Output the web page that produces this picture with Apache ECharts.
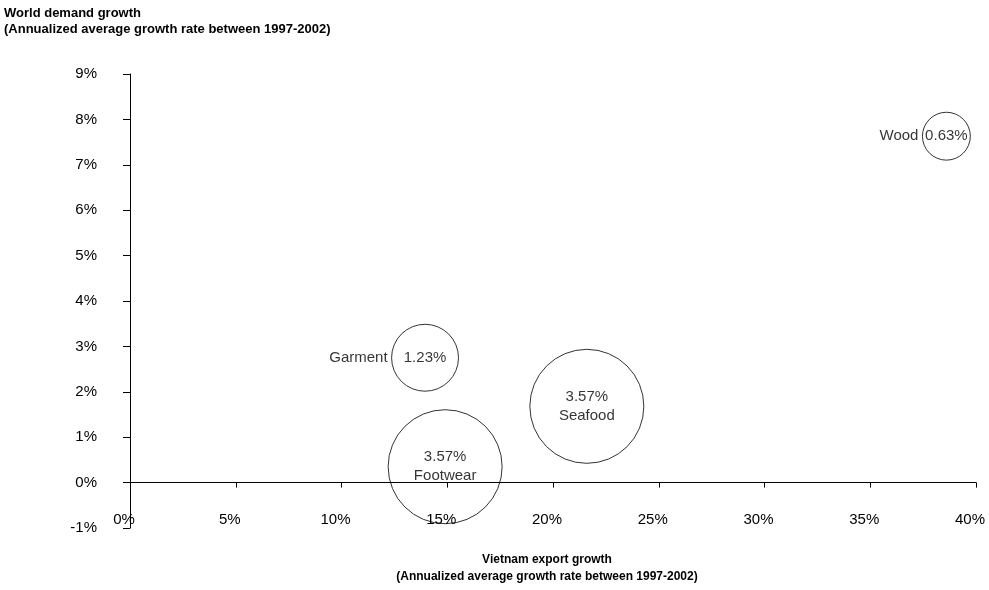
<!DOCTYPE html>
<html>
<head>
<meta charset="utf-8">
<script src="https://cdn.jsdelivr.net/npm/echarts@6/dist/echarts.min.js"></script>
<style>
  html, body { margin: 0; padding: 0; background: #fff; }
  #chart { width: 989px; height: 590px; }
</style>
</head>
<body>
<div id="chart"></div>
<script>
// products, export growth (x), world demand growth (y), share of exports (bubble)
const products = ['Wood', 'Garment', 'Seafood', 'Footwear']
const exportGrowth = [38.6, 13.95, 21.6, 14.9]
const demandGrowth = [7.63, 2.75, 1.68, 0.35]
const exportShare = [0.63, 1.23, 3.57, 3.57]
// names drawn beside the bubble instead of inside
const sideNames = ['Wood', 'Garment']

const font = 'Liberation Sans, Arial, sans-serif'

const points = products.map((p, i) => [exportGrowth[i], demandGrowth[i], exportShare[i], p])

function bubbleSize (d) {
  return 114 * Math.sqrt(d[2] / 3.57)
}

const chart = echarts.init(document.getElementById('chart'))

chart.setOption({
  animation: false,
  backgroundColor: '#fff',
  title: {
    text: 'World demand growth\n(Annualized average growth rate between 1997-2002)',
    left: 4,
    top: 5,
    padding: 0,
    textStyle: {
      fontFamily: font,
      fontSize: 13,
      fontWeight: 'bold',
      color: '#000',
      lineHeight: 16
    }
  },
  grid: { left: 130, right: 13, top: 74, bottom: 55 },
  xAxis: [{
    type: 'value',
    min: 0,
    max: 40,
    interval: 5,
    axisLine: { onZero: true, lineStyle: { color: '#000', width: 1 } },
    axisTick: { show: true, length: 5, lineStyle: { color: '#000' } },
    axisLabel: { show: false },
    splitLine: { show: false }
  }, {
    type: 'value',
    position: 'bottom',
    offset: -20,
    min: 0,
    max: 40,
    interval: 5,
    axisLine: { show: false, onZero: false },
    axisTick: { show: false },
    axisLabel: {
      margin: 4,
      padding: [0, 12, 0, 0],
      formatter: '{value}%',
      fontFamily: font,
      fontSize: 15,
      color: '#000'
    },
    splitLine: { show: false },
    name: 'Vietnam export growth\n(Annualized average growth rate between 1997-2002)',
    nameLocation: 'middle',
    nameGap: 43,
    nameTextStyle: {
      fontFamily: font,
      fontSize: 12,
      fontWeight: 'bold',
      color: '#000',
      lineHeight: 17,
      padding: [0, 12, 0, 0]
    }
  }],
  yAxis: {
    type: 'value',
    min: -1,
    max: 9,
    interval: 1,
    axisLine: { show: true, onZero: false, lineStyle: { color: '#000', width: 1 } },
    axisTick: { show: true, length: 7, lineStyle: { color: '#000' } },
    axisLabel: {
      margin: 33,
      formatter: '{value}%',
      fontFamily: font,
      fontSize: 15,
      color: '#000'
    },
    splitLine: { show: false }
  },
  series: [{
    type: 'scatter',
    data: points,
    symbolSize: bubbleSize,
    itemStyle: { color: 'rgba(255,255,255,0)', borderColor: '#000', borderWidth: 1 },
    label: {
      show: true,
      position: 'inside',
      fontFamily: font,
      fontSize: 15,
      color: '#000',
      lineHeight: 19,
      formatter: p => sideNames.includes(p.data[3])
        ? p.data[2].toFixed(2) + '%'
        : p.data[2].toFixed(2) + '%\n' + p.data[3]
    },
    z: 3
  }, {
    type: 'scatter',
    data: points.filter(d => sideNames.includes(d[3])),
    symbolSize: bubbleSize,
    itemStyle: { color: 'rgba(0,0,0,0)', borderWidth: 0 },
    label: {
      show: true,
      position: 'left',
      distance: 4,
      fontFamily: font,
      fontSize: 15,
      color: '#000',
      formatter: p => p.data[3]
    },
    silent: true,
    z: 2
  }]
})
</script>
</body>
</html>
